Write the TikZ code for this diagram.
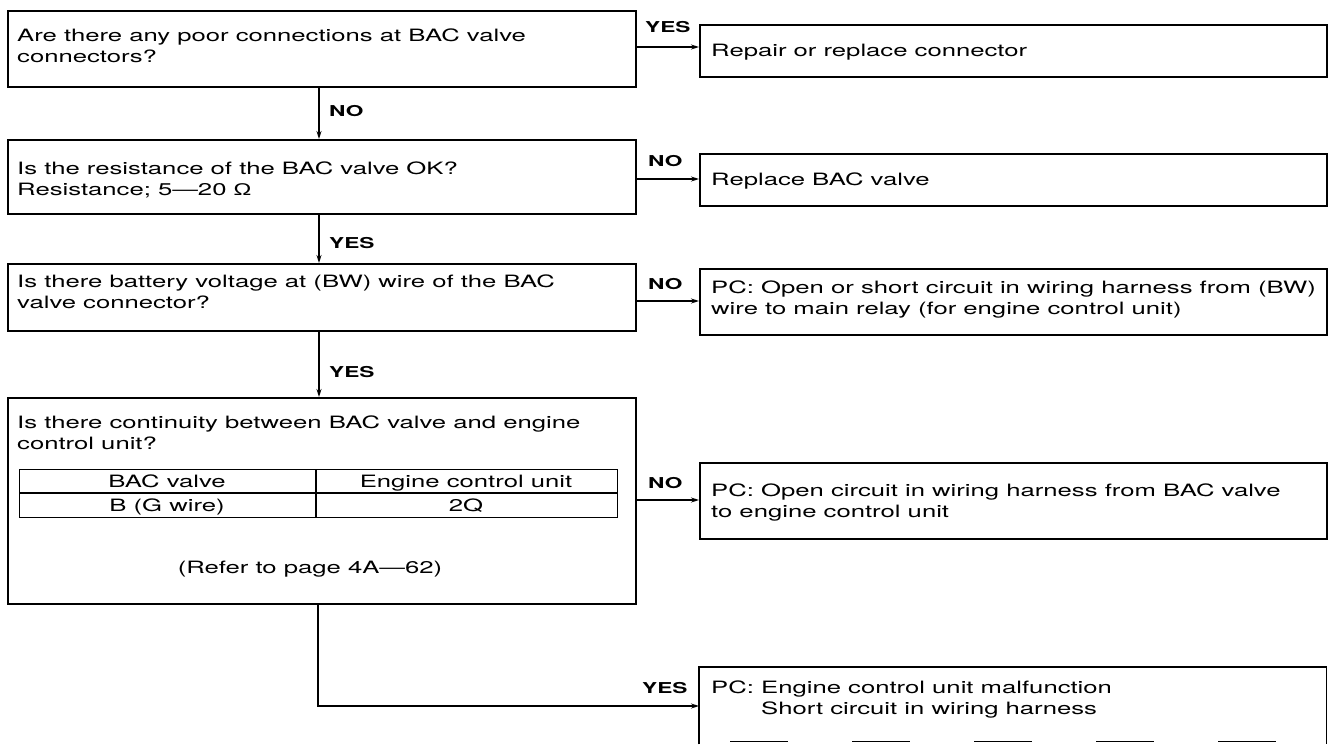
\documentclass[tikz,border=0pt]{standalone}
\usepackage{fontspec}
\setmainfont{TeX Gyre Heros}[FakeStretch=1.51]
\newfontfamily\grkfont{Liberation Sans}[FakeStretch=1.4]
\usetikzlibrary{arrows.meta,calc}
\begin{document}
\begin{tikzpicture}[x=1pt,y=-1pt,
  box/.style={draw, line width=1.5pt, inner sep=0pt, anchor=north west},
  txt/.style={anchor=base west, inner sep=0pt, align=left, font=\fontsize{17}{21}\selectfont},
  ctxt/.style={anchor=base, inner sep=0pt, font=\fontsize{17}{21}\selectfont},
  lbl/.style={anchor=base west, inner sep=0pt, font=\fontsize{15}{18}\selectfont\bfseries},
  arr/.style={line width=1.2pt, -{Stealth[length=8pt,width=5pt]}},
  tline/.style={line width=1.3pt},
]
\useasboundingbox (0,0) rectangle (1330,744);

% boxes
\node[box, minimum width=628pt, minimum height=76pt] (b1) at (7,10) {};
\node[box, minimum width=627pt, minimum height=52pt] (b2) at (699,24) {};
\node[box, minimum width=628pt, minimum height=74pt] (b3) at (7,139) {};
\node[box, minimum width=627pt, minimum height=52pt] (b4) at (699,153) {};
\node[box, minimum width=628pt, minimum height=67pt] (b5) at (7,263) {};
\node[box, minimum width=627pt, minimum height=66pt] (b6) at (699,268) {};
\node[box, minimum width=628pt, minimum height=206pt] (b7) at (7,397) {};
\node[box, minimum width=627pt, minimum height=76pt] (b8) at (699,462) {};
\node[anchor=north west, inner sep=0pt, minimum width=627pt, minimum height=77pt] (b9) at (699,667) {};
\draw[line width=1.5pt] (b9.south west) -- (b9.north west) -- (b9.north east) -- (b9.south east);
\draw[line width=1.5pt, dash pattern=on 58pt off 64pt, dash phase=91pt]
  ($(b9.south west)+(0,-3)$) -- ($(b9.south east)+(0,-3)$);

% texts
\node[txt] (t1) at (17,62) {Are there any poor connections at BAC valve\\connectors?};
\node[txt] (t2) at (711,56) {Repair or replace connector};
\node[txt] (t3) at (17,195) {Is the resistance of the BAC valve OK?\\Resistance; 5---20 {\grkfont Ω}};
\node[txt] (t4) at (711,185) {Replace BAC valve};
\node[txt] (t5) at (17,308) {Is there battery voltage at (BW) wire of the BAC\\valve connector?};
\node[txt] (t6) at (711,314) {PC: Open or short circuit in wiring harness from (BW)\\wire to main relay (for engine control unit)};
\node[txt] (t7) at (17,449) {Is there continuity between BAC valve and engine\\control unit?};
\node[txt] (t8) at (711,517) {PC: Open circuit in wiring harness from BAC valve\\to engine control unit};
\node[txt] (t9) at (711,714) {PC: Engine control unit malfunction\\\phantom{PC: }Short circuit in wiring harness};

% table
\node[draw, tline, anchor=north west, inner sep=0pt, minimum width=598pt, minimum height=48pt] (tab) at (19,469) {};
\coordinate (trow) at (0,493);
\coordinate (tcol) at (316,0);
\draw[tline] (tab.west |- trow) -- (tab.east |- trow);
\draw[tline] (tab.north -| tcol) -- (tab.south -| tcol);
\node[ctxt] (c11) at (167,487) {BAC valve};
\node[ctxt] (c12) at (466,487) {Engine control unit};
\node[ctxt] (c21) at (167,511) {B (G wire)};
\node[ctxt] (c22) at (466,511) {2Q};
\node[ctxt] (ref) at (310,573) {(Refer to page 4A---62)};

% connectors
\coordinate (xa) at (319,0);
\coordinate (xb) at (318,0);
\coordinate (y1) at (0,47);
\coordinate (y2) at (0,179);
\coordinate (y3) at (0,301);
\coordinate (y4) at (0,500);
\coordinate (y5) at (0,706);
\draw[arr] (b1.east |- y1) -- (b2.west |- y1);
\draw[arr] (b3.east |- y2) -- (b4.west |- y2);
\draw[arr] (b5.east |- y3) -- (b6.west |- y3);
\draw[arr] (b7.east |- y4) -- (b8.west |- y4);
\draw[arr] (b1.south -| xa) -- (b3.north -| xa);
\draw[arr] (b3.south -| xa) -- (b5.north -| xa);
\draw[arr] (b5.south -| xa) -- (b7.north -| xa);
\draw[arr] (b7.south -| xb) |- (b9.west |- y5);

% labels
\node[lbl] (l1) at (645,32) {YES};
\node[lbl] (l2) at (329,116) {NO};
\node[lbl] (l3) at (648,166) {NO};
\node[lbl] (l4) at (329,248) {YES};
\node[lbl] (l5) at (648,289) {NO};
\node[lbl] (l6) at (329,377) {YES};
\node[lbl] (l7) at (648,488) {NO};
\node[lbl] (l8) at (642,693) {YES};
\end{tikzpicture}
\end{document}
